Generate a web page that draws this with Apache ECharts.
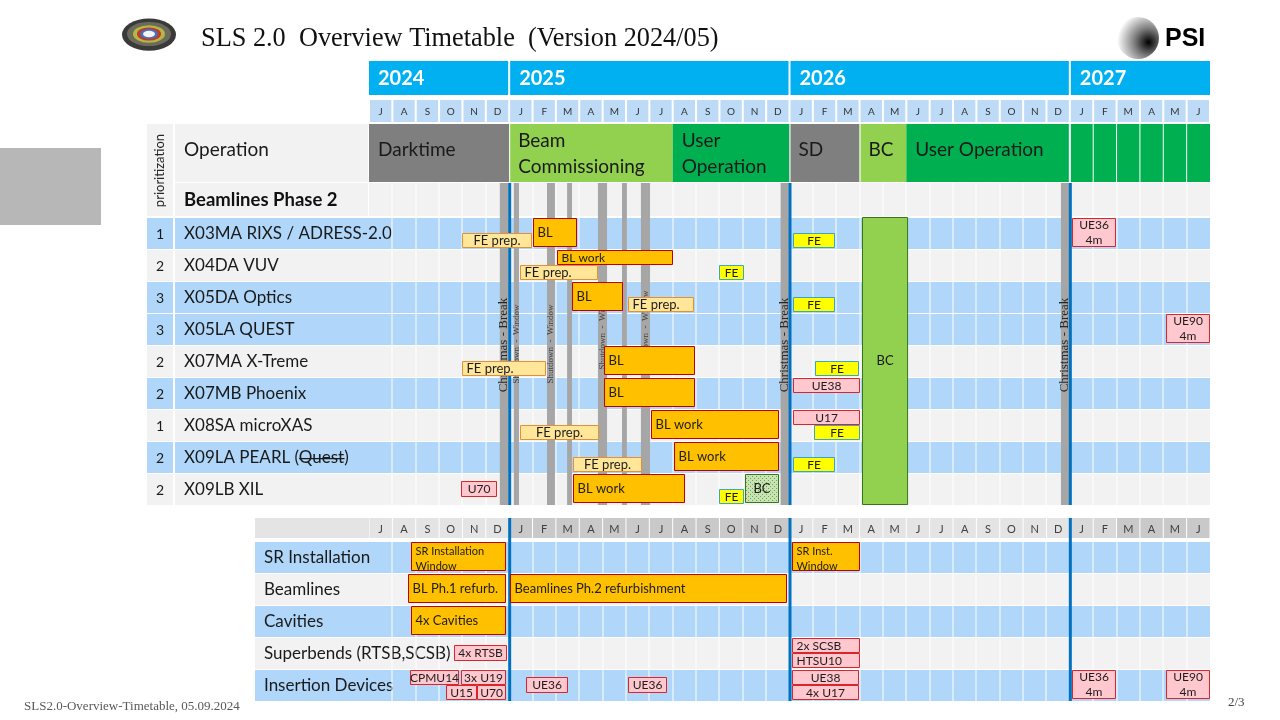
<!DOCTYPE html>
<html><head><meta charset="utf-8">
<script src="https://cdn.jsdelivr.net/npm/echarts@6/dist/echarts.min.js"></script>
<style>html,body{margin:0;padding:0;background:#fff}#c{width:1280px;height:720px}</style>
</head><body><div id="c"></div>
<script>
// ---------------- DATA ----------------
const monthLetters = ['J','A','S','O','N','D','J','F','M','A','M','J','J','A','S','O','N','D','J','F','M','A','M','J','J','A','S','O','N','D','J','F','M','A','M','J'];
const years = ['2024','2025','2026','2027'];
const yearSpans = [[0,6],[6,18],[18,30],[30,36]];
const opLabels = ['Darktime','Beam\nCommissioning','User\nOperation','SD','BC','User Operation'];
const opSpans = [[0,6],[6,13],[13,18],[18,21],[21,23],[23,36]];
const opKinds = ['dark','commission','user','dark','commission','user'];
const beamlineNames = ['X03MA RIXS / ADRESS-2.0','X04DA VUV','X05DA Optics','X05LA QUEST','X07MA X-Treme','X07MB Phoenix','X08SA microXAS','X09LA PEARL (Quest)','X09LB XIL'];
const beamlinePriority = [1,2,3,3,2,2,1,2,2];
const beamlineShade = ['blue','gray','blue','blue','gray','blue','gray','blue','gray'];
const yearBoundaries = [6,18,30];
const christmasBreaks = [[5.6,5.95],[17.62,17.97],[29.62,29.97]];
const shutdownWindows = [[6.2,6.42],[7.62,7.96],[8.48,8.69],[9.8,10.19],[10.83,11.04],[11.64,12.03]];
const shutdownLabelled = [true,true,false,true,false,true];
// [row, start month, end month, label, kind, vertical slot, text align]
const beamlineTasks = [
  [0,4.0,7.0,'FE prep.','fe','bottom','center'],
  [0,7.0,8.9,'BL','bl','full','left'],
  [0,18.15,19.95,'FE','yfe','bottom','center'],
  [0,30.1,32.0,'UE36\n4m','id','full','center'],
  [1,8.05,13.0,'BL work','bl','top','left'],
  [1,6.46,9.8,'FE prep.','fe','bottom','left'],
  [1,15.0,16.05,'FE','yfe','bottom','center'],
  [2,8.7,10.87,'BL','bl','full','left'],
  [2,11.09,13.9,'FE prep.','fe','bottom','left'],
  [2,18.15,19.95,'FE','yfe','bottom','center'],
  [3,34.1,36.0,'UE90\n4m','id','full','center'],
  [4,4.0,7.6,'FE prep.','fe','bottom','left'],
  [4,10.05,13.95,'BL','bl','full','left'],
  [4,19.1,21.0,'FE','yfe','bottom','center'],
  [5,10.05,13.95,'BL','bl','full','left'],
  [5,18.15,21.0,'UE38','id','top','center'],
  [6,6.46,9.85,'FE prep.','fe','bottom','center'],
  [6,12.07,17.55,'BL work','bl','full','left'],
  [6,18.15,21.0,'U17','id','top','center'],
  [6,19.05,21.0,'FE','yfe','bottom','center'],
  [7,8.73,11.69,'FE prep.','fe','bottom','center'],
  [7,13.06,17.55,'BL work','bl','full','left'],
  [7,18.15,19.95,'FE','yfe','bottom','center'],
  [8,3.94,5.48,'U70','id','mid','center'],
  [8,8.73,13.53,'BL work','bl','full','left'],
  [8,15.0,16.05,'FE','yfe','bottom','center'],
  [8,16.1,17.55,'BC','bcp','full','center']
];
const commissioningSpan = [21.1,23.03];
const commissioningRows = [0,9];
const facilityNames = ['SR Installation','Beamlines','Cavities','Superbends (RTSB,SCSB)','Insertion Devices'];
const facilityShade = ['blue','gray','blue','gray','blue'];
const facilityTasks = [
  [0,1.8,5.85,'SR Installation\nWindow','bl','full','tl'],
  [0,18.1,21.0,'SR Inst.\nWindow','bl','full','tl'],
  [1,1.65,5.85,'BL Ph.1 refurb.','bl','full','left'],
  [1,6.05,17.9,'Beamlines Ph.2 refurbishment','bl','full','left'],
  [2,1.8,5.85,'4x Cavities','bl','full','left'],
  [3,3.62,5.9,'4x RTSB','id','mid','center'],
  [3,18.1,21.0,'2x SCSB','id','top','left'],
  [3,18.1,21.0,'HTSU10','id','bottom','left'],
  [4,1.76,3.85,'CPMU14','id','top','center'],
  [4,3.94,5.86,'3x U19','id','top','center'],
  [4,3.29,4.6,'U15','id','bottom','center'],
  [4,4.63,5.86,'U70','id','bottom','center'],
  [4,6.7,8.5,'UE36','id','mid','center'],
  [4,11.1,12.75,'UE36','id','mid','center'],
  [4,18.1,20.95,'UE38','id','top','center'],
  [4,18.1,20.95,'4x U17','id','bottom','center'],
  [4,30.1,32.0,'UE36\n4m','id','full','center'],
  [4,34.1,36.0,'UE90\n4m','id','full','center']
];
const bottomHeaderShade = ['a','a','a','a','a','a','b','b','b','b','b','b','b','b','b','b','b','b','a','a','a','a','a','a','a','a','a','a','a','a','c','c','b','b','b','b'];

// ---------------- STYLE / LAYOUT ----------------
const FONT = 'Lato, "Open Sans", sans-serif';
const SERIF = '"Liberation Serif", "DejaVu Serif", serif';
const COL = {blue:'#b0d7fa', gray:'#f2f2f2', yearBlue:'#00b0f0', monthBlue:'#bddbf6',
  dark:'#7f7f7f', commission:'#92d050', user:'#00b050', line:'#0070c0', breakGray:'#a6a6a6',
  a:'#e4e4e4', b:'#c9c9c9', c:'#d9d9d9'};
const patCanvas = document.createElement('canvas');
patCanvas.width = 4; patCanvas.height = 4;
(function(){const g=patCanvas.getContext('2d');g.fillStyle='#c9e3b4';g.fillRect(0,0,4,4);g.fillStyle='#6aa84f';g.fillRect(0,0,1,1);g.fillRect(2,2,1,1);})();
const KIND = {
  bl:{fill:'#ffc000', stroke:'#c00000'},
  fe:{fill:'#ffe699', stroke:'#e2913a', size:13},
  yfe:{fill:'#ffff00', stroke:'#3ba7b8'},
  id:{fill:'#ffc7ce', stroke:'#d8262d'},
  bcp:{fill:{image:patCanvas, repeat:'repeat'}, stroke:'#38761d'}
};
const SLOT = {full:[0.04,0.96], top:[0.03,0.5], bottom:[0.5,0.97], mid:[0.25,0.75]};
const BAND = {year:[-4.875,-3.8125], month:[-3.65625,-2.96875], op:[-2.90625,-1.09375], head:[-1.0625,0]};
const BBAND = {head:[-0.71875,-0.09375]};

function box(api,x0,x1,y0,y1){
  const p0=api.coord([x0,y0]), p1=api.coord([x1,y1]);
  return {x:Math.min(p0[0],p1[0]), y:Math.min(p0[1],p1[1]), width:Math.abs(p1[0]-p0[0]), height:Math.abs(p1[1]-p0[1])};
}
function txt(text,x,y,font,fill,align,va,extra){
  const s = Object.assign({text:text,x:x,y:y,font:font,fill:fill,align:align,verticalAlign:va,textAlign:align,textVerticalAlign:va}, extra||{});
  return {type:'text', style:s};
}
const measureCtx = document.createElement('canvas').getContext('2d');
function textWidth(t,font){measureCtx.font=font;return measureCtx.measureText(t).width;}

function taskRenderer(tasks){
  return function(params, api){
    const t = tasks[params.dataIndex];
    const row=t[0], s=t[1], e=t[2], label=t[3], kind=t[4], slot=SLOT[t[5]], al=t[6];
    const r = box(api, s, e, row+slot[0], row+slot[1]);
    r.x = Math.round(r.x)+0.5; r.y=Math.round(r.y)+0.5; r.width=Math.round(r.width)-1; r.height=Math.round(r.height)-1;
    const st = KIND[kind];
    const ch = [{type:'rect', shape:r, style:{fill:st.fill, stroke:st.stroke, lineWidth:1}}];
    const two = label.indexOf('\n')>=0;
    let size = st.size || ((t[5]==='full' && !two) ? 13 : 12);
    if (al==='tl') size = 11;
    const font = size+'px '+FONT;
    let x, a, y, va='middle';
    if (al==='left' || al==='tl'){ x=r.x+4; a='left'; } else { x=r.x+r.width/2; a='center'; }
    y = r.y + r.height/2 + 0.5;
    if (al==='tl'){ y=r.y+1; va='top'; }
    ch.push(txt(label,x,y,font,'#1d1d1d',a,va,{lineHeight: 15}));
    return {type:'group', children:ch};
  };
}

// ---------------- SERIES ----------------
const series = [];
const TOP = {xAxisIndex:0, yAxisIndex:0}, BOT = {xAxisIndex:1, yAxisIndex:1};
function custom(axes, z, data, render){
  series.push(Object.assign({type:'custom', z:z, silent:true, animation:false, clip:false, data:data, renderItem:render}, axes));
}

// year header
custom(TOP, 1, yearSpans.map(s=>[s[0],BAND.year[0]]), function(p,api){
  const s=yearSpans[p.dataIndex]; const r=box(api,s[0],s[1],BAND.year[0],BAND.year[1]);
  if (p.dataIndex>0){ r.x+=1; r.width-=1; }
  if (p.dataIndex<3){ r.width-=1; }
  return {type:'group', children:[{type:'rect',shape:r,style:{fill:COL.yearBlue}},
    txt(years[p.dataIndex], r.x+9, r.y+r.height/2+1, 'bold 20px '+FONT, '#ffffff','left','middle')]};
});
// month header
custom(TOP, 1, monthLetters.map((m,i)=>[i,BAND.month[0]]), function(p,api){
  const i=p.dataIndex; const r=box(api,i,i+1,BAND.month[0],BAND.month[1]);
  r.x+=1; r.width-=2;
  return {type:'group', children:[{type:'rect',shape:r,style:{fill:COL.monthBlue}},
    txt(monthLetters[i], r.x+r.width/2, r.y+r.height/2+1, '10px '+FONT, '#333','center','middle')]};
});
// operation row
custom(TOP, 1, opSpans.map(s=>[s[0],BAND.op[0]]), function(p,api){
  const i=p.dataIndex, s=opSpans[i]; const r=box(api,s[0],s[1],BAND.op[0],BAND.op[1]);
  const ch=[{type:'rect',shape:r,style:{fill:COL[opKinds[i]]}}];
  if (i===1 || i===3 || i===4){ ch.push({type:'rect',shape:{x:r.x,y:r.y,width:1,height:r.height},style:{fill:'#fff'}}); }
  const two = opLabels[i].indexOf('\n')>=0;
  ch.push(txt(opLabels[i], r.x+9, r.y+r.height/2+(two?1:-3), '19px '+FONT, '#1a1a1a','left','middle',{lineHeight:26}));
  return {type:'group', children:ch};
});
// month cell lines in 2027 operation
custom(TOP, 2, [30,31,32,33,34,35].map(m=>[m,BAND.op[0]]), function(p,api){
  const m=[30,31,32,33,34,35][p.dataIndex]; const r=box(api,m,m,BAND.op[0],BAND.op[1]);
  return {type:'rect', shape:{x:r.x-(m===30?1:0.5), y:r.y, width:m===30?2:1, height:r.height}, style:{fill:'#fff'}};
});
// left header cells
custom(TOP, 1, [[0,BAND.op[0]]], function(p,api){
  const a=box(api,0,36,BAND.op[0],BAND.head[1]);
  const x0=a.x;
  const opR=box(api,0,1,BAND.op[0],BAND.op[1]);
  const hdR=box(api,0,36,BAND.head[0],BAND.head[1]);
  const ch=[];
  ch.push({type:'rect',shape:{x:x0-222,y:a.y,width:26,height:a.height-1},style:{fill:COL.gray}});
  ch.push({type:'rect',shape:{x:x0-194,y:opR.y,width:193,height:opR.height},style:{fill:COL.gray}});
  ch.push({type:'rect',shape:{x:x0-194,y:hdR.y,width:193,height:hdR.height-1},style:{fill:COL.gray}});
  ch.push({type:'rect',shape:{x:x0,y:hdR.y,width:hdR.width,height:hdR.height-1},style:{fill:COL.gray}});
  const t=txt('prioritization', 0, 0, '13px '+FONT, '#262626','center','middle');
  t.x=x0-209; t.y=a.y+a.height/2; t.rotation=Math.PI/2;
  ch.push(t);
  ch.push(txt('Operation', x0-185, opR.y+opR.height/2-3, '19px '+FONT, '#1a1a1a','left','middle'));
  ch.push(txt('Beamlines Phase 2', x0-185, hdR.y+hdR.height/2, 'bold 18.5px '+FONT, '#111','left','middle'));
  return {type:'group', children:ch};
});
// beamline rows
custom(TOP, 1, beamlineNames.map((n,i)=>[0,i]), function(p,api){
  const i=p.dataIndex; const r=box(api,0,36,i,i+1);
  const fill=COL[beamlineShade[i]]; const x0=r.x;
  const f='17px '+FONT;
  const ch=[{type:'rect',shape:{x:x0-222,y:r.y+1,width:26,height:r.height-1},style:{fill:fill}},
    {type:'rect',shape:{x:x0-194,y:r.y+1,width:194+r.width,height:r.height-1},style:{fill:fill}},
    txt(String(beamlinePriority[i]), x0-209, r.y+r.height/2+1, '14px '+FONT, '#1a1a1a','center','middle'),
    txt(beamlineNames[i], x0-185, r.y+r.height/2+1, f, '#1a1a1a','left','middle')];
  const k=beamlineNames[i].indexOf('Quest');
  if (k>=0){
    const w0=textWidth(beamlineNames[i].slice(0,k),f); const w1=textWidth('Quest',f);
    ch.push({type:'rect',shape:{x:x0-185+w0,y:r.y+r.height/2+1,width:w1,height:1.2},style:{fill:'#1a1a1a'}});
  }
  return {type:'group', children:ch};
});
// month grid lines
custom(TOP, 2, monthLetters.slice(1).map((m,i)=>[i+1,BAND.head[0]]), function(p,api){
  const m=p.dataIndex+1; const r=box(api,m,m,BAND.head[0],9);
  return {type:'rect', shape:{x:Math.round(r.x)-0.5,y:r.y,width:1,height:r.height}, style:{fill:'#ffffff'}};
});
// christmas breaks
custom(TOP, 3, christmasBreaks.map(b=>[b[0],BAND.head[0]]), function(p,api){
  const b=christmasBreaks[p.dataIndex]; const r=box(api,b[0],b[1],BAND.head[0],9);
  const t={type:'text', x:r.x+r.width/2, y:345, rotation:Math.PI/2, style:{text:'Christmas - Break', x:0,y:0, font:'13px '+SERIF, fill:'#262626', align:'center', verticalAlign:'middle', textAlign:'center', textVerticalAlign:'middle'}};
  return {type:'group', children:[{type:'rect',shape:r,style:{fill:COL.breakGray}}, t]};
});
// shutdown windows
custom(TOP, 3, shutdownWindows.map(b=>[b[0],BAND.head[0]]), function(p,api){
  const b=shutdownWindows[p.dataIndex]; const r=box(api,b[0],b[1],BAND.head[0],9);
  const ch=[{type:'rect',shape:r,style:{fill:COL.breakGray}}];
  if (shutdownLabelled[p.dataIndex]) ch.push({type:'text', x:r.x+r.width/2, y:p.dataIndex<2?344:330, rotation:Math.PI/2, style:{text:'Shutdown  -  Window', x:0,y:0, font:'9px '+SERIF, fill:'#404040', align:'center', verticalAlign:'middle', textAlign:'center', textVerticalAlign:'middle'}});
  return {type:'group', children:ch};
});
// year lines top
custom(TOP, 3, yearBoundaries.map(b=>[b,BAND.head[0]]), function(p,api){
  const b=yearBoundaries[p.dataIndex]; const r=box(api,b,b,BAND.head[0],9);
  return {type:'rect', shape:{x:r.x-1,y:r.y,width:3,height:r.height}, style:{fill:COL.line}};
});
// beamline tasks
custom(TOP, 4, beamlineTasks.map(t=>[t[1],t[0]]), taskRenderer(beamlineTasks));
// commissioning block
custom(TOP, 4, [[commissioningSpan[0],commissioningRows[0]]], function(p,api){
  const r=box(api,commissioningSpan[0],commissioningSpan[1],commissioningRows[0],commissioningRows[1]);
  r.x=Math.round(r.x)+0.5; r.y=Math.round(r.y)+0.5; r.height-=1;
  return {type:'group', children:[{type:'rect',shape:r,style:{fill:'#92d050',stroke:'#38761d',lineWidth:1}},
    txt('BC', r.x+r.width/2, r.y+r.height/2, '13px '+FONT, '#1a1a1a','center','middle')]};
});

// ---- bottom table ----
custom(BOT, 1, bottomHeaderShade.map((s,i)=>[i,BBAND.head[0]]), function(p,api){
  const i=p.dataIndex; const r=box(api,i,i+1,BBAND.head[0],BBAND.head[1]);
  const ch=[];
  if (i===0) ch.push({type:'rect',shape:{x:r.x-114,y:r.y,width:114,height:r.height},style:{fill:COL.a}});
  ch.push({type:'rect',shape:{x:r.x+0.5,y:r.y,width:r.width-1,height:r.height},style:{fill:COL[bottomHeaderShade[i]]}});
  ch.push(txt(monthLetters[i], r.x+r.width/2, r.y+r.height/2+1, '11px '+FONT, '#404040','center','middle'));
  return {type:'group', children:ch};
});
custom(BOT, 1, facilityNames.map((n,i)=>[0,i]), function(p,api){
  const i=p.dataIndex; const r=box(api,0,36,i,i+1); const x0=r.x;
  return {type:'group', children:[{type:'rect',shape:{x:x0-114,y:r.y+1,width:114+r.width,height:r.height-1},style:{fill:COL[facilityShade[i]]}},
    txt(facilityNames[i], x0-105, r.y+r.height/2+1, '17px '+FONT, '#1a1a1a','left','middle')]};
});
custom(BOT, 2, monthLetters.slice(1).map((m,i)=>[i+1,0]), function(p,api){
  const m=p.dataIndex+1; const r=box(api,m,m,0,5);
  return {type:'rect', shape:{x:Math.round(r.x)-0.5,y:r.y,width:1,height:r.height}, style:{fill:'#ffffff'}};
});
custom(BOT, 3, yearBoundaries.map(b=>[b,BBAND.head[0]]), function(p,api){
  const b=yearBoundaries[p.dataIndex]; const r=box(api,b,b,BBAND.head[0],5);
  return {type:'rect', shape:{x:r.x-1,y:r.y,width:3,height:r.height}, style:{fill:COL.line}};
});
custom(BOT, 4, facilityTasks.map(t=>[t[1],t[0]]), taskRenderer(facilityTasks));

// ---------------- DECOR ----------------
const graphic = [
  {type:'rect', left:0, top:148, shape:{width:101,height:77}, style:{fill:'#b7b7b7'}},
  {type:'group', x:149, y:34, children:[
    {type:'circle', shape:{cx:0,cy:1,r:27}, scaleY:0.6, style:{fill:'#3a3a3a'}},
    {type:'circle', shape:{cx:0,cy:0,r:22}, scaleY:0.55, style:{fill:'#6b6b5a'}},
    {type:'circle', shape:{cx:0,cy:0,r:16}, scaleY:0.55, style:{fill:'#b5b548'}},
    {type:'circle', shape:{cx:0,cy:0,r:12}, scaleY:0.55, style:{fill:'#c0392b'}},
    {type:'circle', shape:{cx:0,cy:0,r:9}, scaleY:0.55, style:{fill:'#4a6fb5'}},
    {type:'circle', shape:{cx:0,cy:0,r:6}, scaleY:0.55, style:{fill:'#f4f4f4'}}
  ]},
  {type:'text', left:201, top:26, style:{text:'SLS 2.0  Overview Timetable  (Version 2024/05)', font:'26.3px '+SERIF, fill:'#111'}},
  {type:'circle', shape:{cx:1138,cy:38,r:21}, style:{fill:new echarts.graphic.RadialGradient(0.75,0.6,0.75,[{offset:0,color:'rgba(0,0,0,1)'},{offset:0.45,color:'rgba(0,0,0,0.5)'},{offset:1,color:'rgba(0,0,0,0)'}])}},
  {type:'text', left:1165, top:27, style:{text:'PSI', font:'bold 25px "Liberation Sans", Arial, sans-serif', fill:'#000'}},
  {type:'text', left:24, top:700, style:{text:'SLS2.0-Overview-Timetable, 05.09.2024', font:'13px '+SERIF, fill:'#595959'}},
  {type:'text', left:1228, top:696, style:{text:'2/3', font:'13px '+SERIF, fill:'#404040'}}
];

const chart = echarts.init(document.getElementById('c'));
chart.setOption({
  animation:false,
  backgroundColor:'#ffffff',
  grid:[{left:369, width:841, top:61, height:444, containLabel:false},{left:369, width:841, top:518, height:183, containLabel:false}],
  xAxis:[{type:'value',gridIndex:0,min:0,max:36,show:false},{type:'value',gridIndex:1,min:0,max:36,show:false}],
  yAxis:[{type:'value',gridIndex:0,min:-4.875,max:9,inverse:true,show:false},{type:'value',gridIndex:1,min:-0.71875,max:5,inverse:true,show:false}],
  graphic:graphic,
  series:series
});
</script></body></html>
